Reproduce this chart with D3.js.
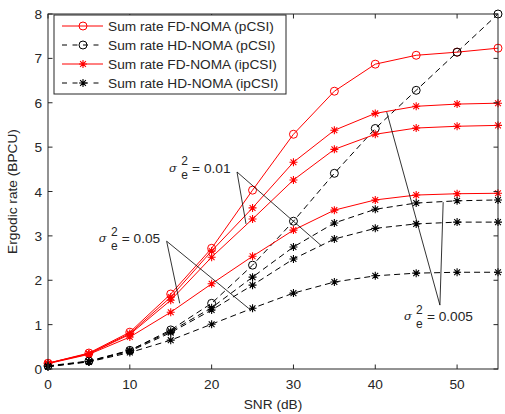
<!DOCTYPE html>
<html>
<head>
<meta charset="utf-8">
<script src="https://cdn.jsdelivr.net/npm/d3@7"></script>
<style>
  body { margin: 0; background: #fff; }
  svg { display: block; font-family: "Liberation Sans", Arial, sans-serif; }
</style>
</head>
<body>
<div id="chart"></div>
<script>
// values
const snr = [0, 5, 10, 15, 20, 25, 30, 35, 40, 45, 50, 55];
const fdPcsi = [0.13, 0.36, 0.83, 1.69, 2.72, 4.03, 5.29, 6.26, 6.87, 7.07, 7.14, 7.23];
const hdPcsi = [0.07, 0.18, 0.42, 0.88, 1.48, 2.34, 3.33, 4.41, 5.42, 6.28, 7.14, 8.0];
const fdIpcsi005 = [0.13, 0.35, 0.80, 1.62, 2.66, 3.63, 4.66, 5.38, 5.76, 5.92, 5.97, 5.99];
const fdIpcsi01 = [0.13, 0.34, 0.78, 1.55, 2.52, 3.38, 4.26, 4.95, 5.29, 5.43, 5.47, 5.49];
const fdIpcsi05 = [0.12, 0.33, 0.72, 1.28, 1.92, 2.54, 3.13, 3.58, 3.81, 3.92, 3.95, 3.96];
const hdIpcsi005 = [0.06, 0.17, 0.42, 0.85, 1.38, 2.07, 2.75, 3.29, 3.60, 3.74, 3.79, 3.81];
const hdIpcsi01 = [0.06, 0.17, 0.40, 0.82, 1.33, 1.89, 2.48, 2.93, 3.17, 3.27, 3.31, 3.31];
const hdIpcsi05 = [0.05, 0.16, 0.37, 0.65, 1.01, 1.37, 1.71, 1.96, 2.10, 2.16, 2.18, 2.18];

const legendLabels = [
  'Sum rate FD-NOMA (pCSI)',
  'Sum rate HD-NOMA (pCSI)',
  'Sum rate FD-NOMA (ipCSI)',
  'Sum rate HD-NOMA (ipCSI)'
];
const xTicks = [0, 10, 20, 30, 40, 50];
const yTicks = [0, 1, 2, 3, 4, 5, 6, 7, 8];

// annotations: label value, label position and pointer ends, in data units
const notes = [
  {val: '0.01', text: [14.8, 4.53], at: [23.1, 4.44], to: [[24.2, 3.27], [33.4, 2.78]]},
  {val: '0.05', text: [6.2, 2.95], at: [14.5, 2.88], to: [[16.1, 1.48], [24.5, 1.37]]},
  {val: '0.005', text: [43.5, 1.19], at: [47.9, 1.44], to: [[41.4, 5.79], [48.3, 3.76]]}
];

const W = 505, H = 414;
const margin = {top: 14, right: 7, bottom: 45, left: 48};
const axisColor = '#262626';
const fs = '13.7px';

const svg = d3.select('#chart').append('svg')
    .attr('width', W)
    .attr('height', H);

const x = d3.scaleLinear().domain([0, 55]).range([margin.left, W - margin.right]);
const y = d3.scaleLinear().domain([0, 8]).range([H - margin.bottom, margin.top]);

const series = [
  {v: fdPcsi, color: 'red', dash: null, mark: 'o'},
  {v: hdPcsi, color: 'black', dash: '6,4', mark: 'o'},
  {v: fdIpcsi005, color: 'red', dash: null, mark: '*'},
  {v: fdIpcsi01, color: 'red', dash: null, mark: '*'},
  {v: fdIpcsi05, color: 'red', dash: null, mark: '*'},
  {v: hdIpcsi005, color: 'black', dash: '6,4', mark: '*'},
  {v: hdIpcsi01, color: 'black', dash: '6,4', mark: '*'},
  {v: hdIpcsi05, color: 'black', dash: '6,4', mark: '*'}
];

const star = 'M-4,0H4M0,-4V4M-2.9,-2.9L2.9,2.9M-2.9,2.9L2.9,-2.9';

function drawMarker(g, mark, color) {
  if (mark === 'o') {
    g.append('circle').attr('r', 4).attr('fill', 'none')
        .attr('stroke', color).attr('stroke-width', 1);
  } else {
    g.append('path').attr('d', star).attr('fill', 'none')
        .attr('stroke', color).attr('stroke-width', 1.1);
  }
}

const line = d3.line()
    .x((d, i) => x(snr[i]))
    .y((d) => y(d));

series.forEach(function(s) {
  svg.append('path')
      .attr('d', line(s.v))
      .attr('fill', 'none')
      .attr('stroke', s.color)
      .attr('stroke-width', 1)
      .attr('stroke-dasharray', s.dash);
  s.v.forEach(function(d, i) {
    const g = svg.append('g')
        .attr('transform', 'translate(' + x(snr[i]) + ',' + y(d) + ')');
    drawMarker(g, s.mark, s.color);
  });
});

// annotation pointers and labels
notes.forEach(function(n) {
  n.to.forEach(function(t) {
    svg.append('line')
        .attr('x1', x(n.at[0])).attr('y1', y(n.at[1]))
        .attr('x2', x(t[0])).attr('y2', y(t[1]))
        .attr('stroke', 'black').attr('stroke-width', 0.8);
  });
  const t = svg.append('g')
      .attr('transform', 'translate(' + x(n.text[0]) + ',' + y(n.text[1]) + ')')
      .attr('fill', axisColor).style('font-size', fs);
  t.append('text').attr('x', 0).attr('y', 4).text('σ')
      .style('font-family', '"DejaVu Serif", serif').style('font-style', 'italic')
      .style('font-size', '11.5px');
  t.append('text').attr('x', 15.5).attr('y', -2.5).text('2')
      .attr('text-anchor', 'middle').style('font-size', '12px');
  t.append('text').attr('x', 15.5).attr('y', 11.5).text('e')
      .attr('text-anchor', 'middle').style('font-size', '12px');
  t.append('text').attr('x', 23).attr('y', 5).text('= ' + n.val);
});

// axes box with inward ticks on all four sides
const plotL = x(0), plotR = x(55), plotT = y(8), plotB = y(0);
const axes = svg.append('g').attr('stroke', axisColor).attr('stroke-width', 1);
axes.append('rect')
    .attr('x', plotL).attr('y', plotT)
    .attr('width', plotR - plotL).attr('height', plotB - plotT)
    .attr('fill', 'none');
const tl = 4.5;
xTicks.forEach(function(t) {
  axes.append('line').attr('x1', x(t)).attr('x2', x(t)).attr('y1', plotB).attr('y2', plotB - tl);
  axes.append('line').attr('x1', x(t)).attr('x2', x(t)).attr('y1', plotT).attr('y2', plotT + tl);
});
yTicks.forEach(function(t) {
  axes.append('line').attr('y1', y(t)).attr('y2', y(t)).attr('x1', plotL).attr('x2', plotL + tl);
  axes.append('line').attr('y1', y(t)).attr('y2', y(t)).attr('x1', plotR).attr('x2', plotR - tl);
});

const labels = svg.append('g').attr('fill', axisColor).style('font-size', fs);
xTicks.forEach(function(t) {
  labels.append('text').attr('x', x(t)).attr('y', plotB + 20)
      .attr('text-anchor', 'middle').text(t);
});
yTicks.forEach(function(t) {
  labels.append('text').attr('x', plotL - 6).attr('y', y(t) + 5)
      .attr('text-anchor', 'end').text(t);
});
labels.append('text')
    .attr('x', (plotL + plotR) / 2).attr('y', H - 5)
    .attr('text-anchor', 'middle').text('SNR (dB)');
labels.append('text')
    .attr('transform', 'translate(17,' + ((plotT + plotB) / 2) + ') rotate(-90)')
    .attr('text-anchor', 'middle').text('Ergodic rate (BPCU)');

// legend
const legend = svg.append('g').attr('transform', 'translate(54,15)');
legend.append('rect')
    .attr('width', 232).attr('height', 79)
    .attr('fill', 'white').attr('stroke', axisColor).attr('stroke-width', 1);
legendLabels.forEach(function(lab, i) {
  const s = series[i === 3 ? 5 : i];
  const row = legend.append('g').attr('transform', 'translate(0,' + (11 + i * 19) + ')');
  row.append('line').attr('x1', 8).attr('x2', 49)
      .attr('stroke', s.color).attr('stroke-width', 1)
      .attr('stroke-dasharray', s.dash ? '5,5.5' : null);
  drawMarker(row.append('g').attr('transform', 'translate(29,0)'), s.mark, s.color);
  row.append('text').attr('x', 54).attr('y', 5)
      .attr('fill', axisColor).style('font-size', fs).text(lab);
});
</script>
</body>
</html>
